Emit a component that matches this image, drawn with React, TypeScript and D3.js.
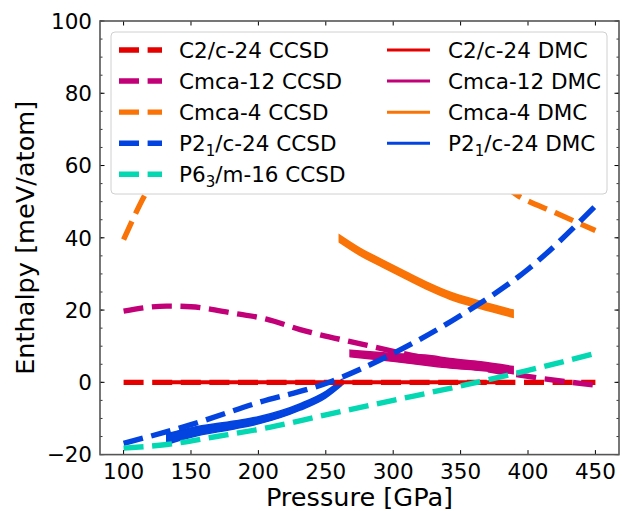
import React from "react";
import * as d3 from "d3";

// ---------- data ----------
const c2cCcsdP = [100, 450];
const c2cCcsdE = [0, 0];

const cmca12CcsdP = [100, 132, 150, 182, 206, 231, 280, 330, 379, 408, 450];
const cmca12CcsdE = [19.7, 21.1, 20.9, 19.1, 17.5, 14.6, 10.3, 6.2, 2.9, 1.2, -0.8];

const cmca4CcsdP = [100, 105, 110, 115, 120, 130, 150, 180, 220, 260, 300, 340, 370, 392, 420, 450];
const cmca4CcsdE = [39.5, 43.6, 47.6, 51.3, 54.5, 60.5, 70, 78.5, 83, 82, 76, 66, 58, 51.8, 47, 42];

const p21cCcsdP = [100, 150, 200, 250, 300, 350, 400, 450];
const p21cCcsdE = [-16.9, -11.7, -5.6, -0.3, 8.0, 18.5, 31.3, 48.8];

const p63mCcsdP = [100, 132, 169, 209, 250, 300, 350, 400, 450];
const p63mCcsdE = [-18.2, -17.2, -15.0, -12.4, -9.0, -5.0, -1.0, 3.3, 8.0];

const c2cDmcP = [132, 389];
const c2cDmcE = [0, 0];
const c2cDmcErr = [0.35, 0.35];

const cmca12DmcP = [268, 300, 327, 342, 365, 389];
const cmca12DmcE = [8.0, 6.9, 6.0, 5.3, 4.5, 3.4];
const cmca12DmcErr = [0.9, 1.1, 1.4, 1.3, 1.2, 1.0];

const cmca4DmcP = [260, 275, 292, 310, 327, 342, 364, 389];
const cmca4DmcE = [39.8, 36.2, 32.9, 29.5, 26.4, 24.0, 21.5, 19.0];
const cmca4DmcErr = [1.0, 1.0, 1.0, 1.0, 1.0, 1.0, 1.0, 1.0];

const p21cDmcP = [132, 150, 182, 200, 231, 250, 262];
const p21cDmcE = [-15.7, -13.9, -11.8, -10.5, -6.8, -3.4, 0.0];
const p21cDmcErr = [1.5, 1.3, 1.1, 1.0, 0.9, 0.9, 0.8];

const xTicks = [100, 150, 200, 250, 300, 350, 400, 450];
const yTicks = [-20, 0, 20, 40, 60, 80, 100];
const yMinorTicks = d3.range(-20, 100.01, 5);

const RED = "#e50000";
const MAGENTA = "#c20078";
const ORANGE = "#f97306";
const BLUE = "#0343df";
const TEAL = "#04d8b2";

const FONT = "DejaVu Sans, sans-serif";

// ---------- layout ----------
const W = 622;
const H = 511;
const left = 100;
const right = 619;
const top = 21;
const bottom = 454.6;

export default function App() {
  const x = d3.scaleLinear().domain([82.5, 467.5]).range([left, right]);
  const y = d3.scaleLinear().domain([-20, 100]).range([bottom, top]);

  const line = (P: number[], E: number[]) =>
    d3
      .line<number>()
      .x((_, i) => x(P[i]))
      .y((_, i) => y(E[i]))
      .curve(d3.curveMonotoneX)(P) as string;

  const band = (P: number[], E: number[], err: number[]) =>
    d3
      .area<number>()
      .x((_, i) => x(P[i]))
      .y0((_, i) => y(E[i] - err[i]))
      .y1((_, i) => y(E[i] + err[i]))
      .curve(d3.curveMonotoneX)(P) as string;

  const dash = "20,8.6";
  const lw = 5.4;

  const ccsd = [
    { P: c2cCcsdP, E: c2cCcsdE, c: RED },
    { P: cmca12CcsdP, E: cmca12CcsdE, c: MAGENTA },
    { P: cmca4CcsdP, E: cmca4CcsdE, c: ORANGE },
    { P: p21cCcsdP, E: p21cCcsdE, c: BLUE },
    { P: p63mCcsdP, E: p63mCcsdE, c: TEAL },
  ];
  const dmc = [
    { P: c2cDmcP, E: c2cDmcE, err: c2cDmcErr, c: RED },
    { P: cmca12DmcP, E: cmca12DmcE, err: cmca12DmcErr, c: MAGENTA },
    { P: cmca4DmcP, E: cmca4DmcE, err: cmca4DmcErr, c: ORANGE },
    { P: p21cDmcP, E: p21cDmcE, err: p21cDmcErr, c: BLUE },
  ];

  const legendCcsd = [
    { c: RED, t: [["C2/c-24 CCSD", false]] },
    { c: MAGENTA, t: [["Cmca-12 CCSD", false]] },
    { c: ORANGE, t: [["Cmca-4 CCSD", false]] },
    { c: BLUE, t: [["P2", false], ["1", true], ["/c-24 CCSD", false]] },
    { c: TEAL, t: [["P6", false], ["3", true], ["/m-16 CCSD", false]] },
  ];
  const legendDmc = [
    { c: RED, t: [["C2/c-24 DMC", false]] },
    { c: MAGENTA, t: [["Cmca-12 DMC", false]] },
    { c: ORANGE, t: [["Cmca-4 DMC", false]] },
    { c: BLUE, t: [["P2", false], ["1", true], ["/c-24 DMC", false]] },
  ];
  const rowY = (i: number) => 50 + i * 31.07;

  const renderLabel = (parts: any[], tx: number, ty: number) => (
    <text x={tx} y={ty} fontSize={21.5} fontFamily={FONT} fill="#000">
      {parts.map((p, k) =>
        p[1] ? (
          <tspan key={k} fontSize={15} dy={5}>
            {p[0]}
          </tspan>
        ) : (
          <tspan key={k} dy={k > 0 ? -5 : 0}>
            {p[0]}
          </tspan>
        )
      )}
    </text>
  );

  return (
    <svg width={W} height={H} style={{ position: "absolute", left: 0, top: 0, background: "#fff" }}>
      <defs>
        <clipPath id="plotClip">
          <rect x={left} y={top} width={right - left} height={bottom - top} />
        </clipPath>
      </defs>
      <rect x={0} y={0} width={W} height={H} fill="#fff" />
      <g clipPath="url(#plotClip)">
        {dmc.map((s, i) => (
          <path key={"b" + i} d={band(s.P, s.E, s.err)} fill={s.c} stroke={s.c} strokeWidth={1.5} />
        ))}
        {ccsd.map((s, i) => (
          <path
            key={"l" + i}
            d={line(s.P, s.E)}
            fill="none"
            stroke={s.c}
            strokeWidth={lw}
            strokeDasharray={dash}
          />
        ))}
      </g>

      {/* ticks */}
      {xTicks.map((t) => (
        <g key={"xt" + t}>
          <line x1={x(t)} x2={x(t)} y1={bottom} y2={bottom - 4.5} stroke="#000" strokeWidth={1} />
          <line x1={x(t)} x2={x(t)} y1={top} y2={top + 4.5} stroke="#000" strokeWidth={1} />
          <text x={x(t)} y={479} textAnchor="middle" fontSize={21.5} fontFamily={FONT} fill="#000">
            {t}
          </text>
        </g>
      ))}
      {yMinorTicks.map((t) => (
        <g key={"ym" + t}>
          <line x1={left} x2={left + 2.5} y1={y(t)} y2={y(t)} stroke="#000" strokeWidth={0.8} />
          <line x1={right} x2={right - 2.5} y1={y(t)} y2={y(t)} stroke="#000" strokeWidth={0.8} />
        </g>
      ))}
      {yTicks.map((t) => (
        <g key={"yt" + t}>
          <line x1={left} x2={left + 4.5} y1={y(t)} y2={y(t)} stroke="#000" strokeWidth={1} />
          <line x1={right} x2={right - 4.5} y1={y(t)} y2={y(t)} stroke="#000" strokeWidth={1} />
          <text
            x={92}
            y={y(t) + 7.8}
            textAnchor="end"
            fontSize={21.5}
            fontFamily={FONT}
            fill="#000"
          >
            {t < 0 ? "\u2212" + Math.abs(t) : t}
          </text>
        </g>
      ))}

      {/* spines */}
      <rect x={left} y={top} width={right - left} height={bottom - top} fill="none" stroke="#555" strokeWidth={1.6} />

      {/* axis labels */}
      <text x={(left + right) / 2} y={506} textAnchor="middle" fontSize={25.6} fontFamily={FONT} fill="#000">
        Pressure [GPa]
      </text>
      <text
        transform={`translate(34,${(top + bottom) / 2}) rotate(-90)`}
        textAnchor="middle"
        fontSize={25.6}
        fontFamily={FONT}
        fill="#000"
      >
        Enthalpy [meV/atom]
      </text>

      {/* legend */}
      <rect x={111} y={32} width={496} height={162} rx={4} fill="#fff" stroke="#d0d0d0" strokeWidth={1} />
      {legendCcsd.map((l, i) => (
        <g key={"lc" + i}>
          <line
            x1={119}
            x2={162}
            y1={rowY(i)}
            y2={rowY(i)}
            stroke={l.c}
            strokeWidth={lw}
            strokeDasharray={dash}
          />
          {renderLabel(l.t, 179, rowY(i) + 7.5)}
        </g>
      ))}
      {legendDmc.map((l, i) => (
        <g key={"ld" + i}>
          <line x1={387} x2={430} y1={rowY(i)} y2={rowY(i)} stroke={l.c} strokeWidth={3} />
          {renderLabel(l.t, 448, rowY(i) + 7.5)}
        </g>
      ))}
    </svg>
  );
}
